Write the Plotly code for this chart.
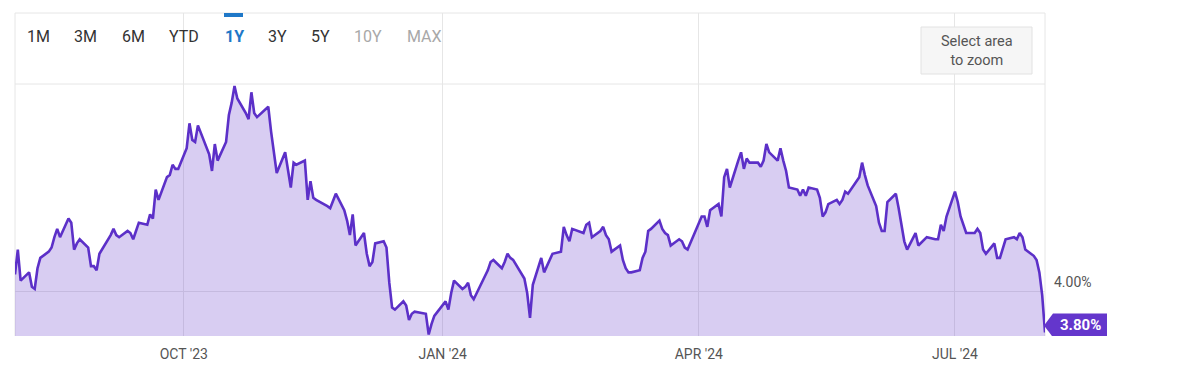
import plotly.graph_objects as go
import pandas as pd

# ---- data (10Y yield, %) ----
aug23_days = [2, 3, 4, 7, 8, 9, 10, 11, 14, 15, 16, 17, 18, 21, 22, 23, 24, 25, 28, 29, 30, 31]
aug23_vals = [4.08, 4.20, 4.05, 4.09, 4.02, 4.01, 4.11, 4.16, 4.19, 4.21, 4.26, 4.30, 4.26, 4.35, 4.33, 4.20, 4.23, 4.25, 4.21, 4.12, 4.12, 4.10]
sep23_days = [1, 5, 6, 7, 8, 11, 12, 13, 14, 15, 18, 19, 20, 21, 22, 25, 26, 27, 28, 29]
sep23_vals = [4.18, 4.27, 4.30, 4.27, 4.26, 4.29, 4.28, 4.25, 4.29, 4.33, 4.32, 4.37, 4.35, 4.49, 4.44, 4.55, 4.56, 4.61, 4.59, 4.59]
oct23_days = [2, 3, 4, 5, 6, 10, 11, 12, 13, 16, 17, 18, 19, 20, 23, 24, 25, 26, 27, 30, 31]
oct23_vals = [4.69, 4.81, 4.73, 4.72, 4.80, 4.66, 4.58, 4.71, 4.63, 4.72, 4.85, 4.91, 4.99, 4.93, 4.86, 4.83, 4.96, 4.86, 4.84, 4.88, 4.89]
nov23_days = [1, 2, 3, 6, 7, 8, 9, 10, 13, 14, 15, 16, 17, 20, 21, 22, 24, 27, 28, 29, 30]
nov23_vals = [4.77, 4.67, 4.57, 4.67, 4.58, 4.50, 4.62, 4.61, 4.63, 4.44, 4.53, 4.45, 4.44, 4.42, 4.41, 4.40, 4.47, 4.39, 4.34, 4.27, 4.37]
dec23_days = [1, 4, 5, 6, 7, 8, 11, 12, 13, 14, 15, 18, 19, 20, 21, 22, 26, 27, 28, 29]
dec23_vals = [4.22, 4.28, 4.18, 4.12, 4.14, 4.23, 4.24, 4.21, 4.04, 3.92, 3.91, 3.95, 3.93, 3.86, 3.89, 3.90, 3.89, 3.79, 3.84, 3.88]
jan24_days = [2, 3, 4, 5, 8, 9, 10, 11, 12, 16, 17, 18, 19, 22, 23, 24, 25, 26, 29, 30, 31]
jan24_vals = [3.95, 3.91, 3.99, 4.05, 4.01, 4.02, 4.04, 3.98, 3.96, 4.07, 4.10, 4.14, 4.15, 4.11, 4.14, 4.18, 4.16, 4.15, 4.08, 4.06, 3.99]
feb24_days = [1, 2, 5, 6, 7, 8, 9, 12, 13, 14, 15, 16, 20, 21, 22, 23, 26, 27, 28, 29]
feb24_vals = [3.87, 4.03, 4.16, 4.09, 4.12, 4.15, 4.18, 4.19, 4.31, 4.27, 4.24, 4.30, 4.28, 4.32, 4.33, 4.26, 4.29, 4.31, 4.27, 4.25]
mar24_days = [1, 4, 5, 6, 7, 8, 11, 12, 13, 14, 15, 18, 19, 20, 21, 22, 25, 26, 27, 28]
mar24_vals = [4.19, 4.22, 4.15, 4.11, 4.09, 4.09, 4.10, 4.16, 4.19, 4.29, 4.30, 4.34, 4.30, 4.28, 4.27, 4.22, 4.25, 4.24, 4.21, 4.20]
apr24_days = [1, 2, 3, 4, 5, 8, 9, 10, 11, 12, 15, 16, 17, 18, 19, 22, 23, 24, 25, 26, 29, 30]
apr24_vals = [4.33, 4.36, 4.36, 4.31, 4.39, 4.42, 4.36, 4.55, 4.59, 4.50, 4.63, 4.67, 4.59, 4.64, 4.62, 4.62, 4.60, 4.63, 4.71, 4.67, 4.63, 4.69]
may24_days = [1, 2, 3, 6, 7, 8, 9, 10, 13, 14, 15, 16, 17, 20, 21, 22, 23, 24, 28, 29, 30, 31]
may24_vals = [4.63, 4.58, 4.50, 4.49, 4.46, 4.49, 4.46, 4.50, 4.49, 4.45, 4.36, 4.38, 4.42, 4.44, 4.42, 4.44, 4.48, 4.47, 4.55, 4.62, 4.56, 4.51]
jun24_days = [3, 4, 5, 6, 7, 10, 11, 12, 13, 14, 17, 18, 20, 21, 24, 25, 26, 27, 28]
jun24_vals = [4.41, 4.33, 4.29, 4.29, 4.43, 4.47, 4.40, 4.31, 4.24, 4.20, 4.28, 4.22, 4.25, 4.26, 4.25, 4.25, 4.32, 4.29, 4.36]
jul24_days = [1, 2, 3, 5, 8, 9, 10, 11, 12, 15, 16, 17, 18, 19, 22, 23, 24, 25, 26, 29, 30, 31]
jul24_vals = [4.48, 4.43, 4.36, 4.28, 4.28, 4.30, 4.28, 4.20, 4.18, 4.23, 4.16, 4.16, 4.20, 4.25, 4.26, 4.25, 4.28, 4.26, 4.20, 4.17, 4.15, 4.09]
aug24_days = [1, 2]
aug24_vals = [3.98, 3.80]

months = [
    ("2023-08", aug23_days, aug23_vals), ("2023-09", sep23_days, sep23_vals),
    ("2023-10", oct23_days, oct23_vals), ("2023-11", nov23_days, nov23_vals),
    ("2023-12", dec23_days, dec23_vals), ("2024-01", jan24_days, jan24_vals),
    ("2024-02", feb24_days, feb24_vals), ("2024-03", mar24_days, mar24_vals),
    ("2024-04", apr24_days, apr24_vals), ("2024-05", may24_days, may24_vals),
    ("2024-06", jun24_days, jun24_vals), ("2024-07", jul24_days, jul24_vals),
    ("2024-08", aug24_days, aug24_vals),
]

tick_dates = ["2023-10-01", "2024-01-01", "2024-04-01", "2024-07-01"]
tick_labels = ["OCT '23", "JAN '24", "APR '24", "JUL '24"]
y_tick_vals = [4.0]
range_buttons = ["1M", "3M", "6M", "YTD", "1Y", "3Y", "5Y", "10Y", "MAX"]

dates, values = [], []
for ym, ds, vs in months:
    for d, v in zip(ds, vs):
        dates.append(pd.Timestamp(f"{ym}-{d:02d}"))
        values.append(v)

# ---- layout geometry (pixels, as seen on the page) ----
PAGE_OFF = 8            # default body margin of the html page
W, H = 1183 - PAGE_OFF, 367 - PAGE_OFF
L, R, T, B = 15, 1045, 13, 336
PX_PER_PCT = 207.0
Y_REF_PIX = 291  # pixel of 4.00%
y_bottom = 4.0 - (B - Y_REF_PIX) / PX_PER_PCT
y_top = 4.0 + (Y_REF_PIX - T) / PX_PER_PCT


def px(x):
    return (x - L) / (R - L)


def py(y):
    return (B - y) / (B - T)


LINE = "#5c30c8"
FILL = "rgba(95,51,201,0.245)"
GRID = "#e6e6e6"
FONT = "Roboto"

fig = go.Figure()
fig.add_trace(go.Scatter(
    x=dates, y=values, mode="lines",
    line=dict(color=LINE, width=2.6),
    fill="tozeroy", fillcolor=FILL,
    hoverinfo="skip", showlegend=False,
))

shapes = [
    dict(type="line", xref="paper", yref="paper", x0=0, x1=1, y0=1, y1=1,
         line=dict(color=GRID, width=1), layer="below"),
    dict(type="line", xref="paper", yref="paper", x0=0, x1=1, y0=py(84), y1=py(84),
         line=dict(color=GRID, width=1), layer="below"),
    dict(type="line", xref="paper", yref="paper", x0=0, x1=0, y0=0, y1=1,
         line=dict(color=GRID, width=1), layer="below"),
    dict(type="line", xref="paper", yref="paper", x0=1, x1=1, y0=0, y1=1,
         line=dict(color=GRID, width=1), layer="below"),
    # active range marker
    dict(type="rect", xref="paper", yref="paper", x0=px(224), x1=px(243), y0=py(17), y1=py(13),
         fillcolor="#1f78c8", line=dict(width=0)),
    # select area box
    dict(type="rect", xref="paper", yref="paper", x0=px(921), x1=px(1032), y0=py(74), y1=py(27),
         fillcolor="#f6f6f6", line=dict(color="#e2e2e2", width=1)),
]

# last-value badge
last = values[-1]
yc = last + 7 / PX_PER_PCT
top_v = yc + 12 / PX_PER_PCT
bot_v = yc - 12 / PX_PER_PCT
badge_path = (f"M {px(1044)},{yc} L {px(1053)},{top_v} L {px(1107)},{top_v} "
              f"L {px(1107)},{bot_v} L {px(1053)},{bot_v} Z")
shapes.append(dict(type="path", xref="paper", yref="y", path=badge_path,
                   fillcolor="#6436cc", line=dict(width=0)))

annotations = []
btn_x = [38, 85, 133, 184, 234, 277, 320, 368, 424]
for lab, bx in zip(range_buttons, btn_x):
    if lab == "1Y":
        col, txt = "#1f78c8", "<b>1Y</b>"
    elif lab in ("10Y", "MAX"):
        col, txt = "#a8a8a8", lab
    else:
        col, txt = "#333333", lab
    annotations.append(dict(xref="paper", yref="paper", x=px(bx), y=py(37), text=txt,
                            showarrow=False, xanchor="center", yanchor="middle",
                            font=dict(family=FONT, size=16, color=col)))

annotations.append(dict(xref="paper", yref="paper", x=px(976.5), y=py(51),
                        text="Select area<br>to zoom", showarrow=False,
                        xanchor="center", yanchor="middle",
                        font=dict(family=FONT, size=14.5, color="#555555")))
annotations.append(dict(xref="paper", yref="y", x=px(1052), y=y_tick_vals[0],
                        yshift=9, text=f"{y_tick_vals[0]:.2f}%", showarrow=False,
                        xanchor="left", yanchor="middle",
                        font=dict(family=FONT, size=14, color="#555555")))
annotations.append(dict(xref="paper", yref="y", x=px(1080), y=yc,
                        text=f"<b>{last:.2f}%</b>", showarrow=False,
                        xanchor="center", yanchor="middle",
                        font=dict(family=FONT, size=15, color="#ffffff")))

fig.update_layout(
    width=W, height=H,
    margin=dict(l=L - PAGE_OFF, r=W - (R - PAGE_OFF), t=T - PAGE_OFF,
                b=H - (B - PAGE_OFF), pad=0),
    paper_bgcolor="white", plot_bgcolor="white",
    shapes=shapes, annotations=annotations,
    xaxis=dict(type="date", range=[dates[0], dates[-1]],
               tickvals=tick_dates, ticktext=tick_labels,
               showgrid=True, gridcolor=GRID, gridwidth=1,
               zeroline=False, showline=False, ticks="",
               ticklabelstandoff=8,
               tickfont=dict(family=FONT, size=14, color="#555555"),
               fixedrange=True),
    yaxis=dict(range=[y_bottom, y_top], tickvals=y_tick_vals,
               showgrid=True, gridcolor=GRID, gridwidth=1,
               zeroline=False, showline=False, showticklabels=False, ticks="",
               fixedrange=True),
    showlegend=False,
)

fig.write_html("out.html")
